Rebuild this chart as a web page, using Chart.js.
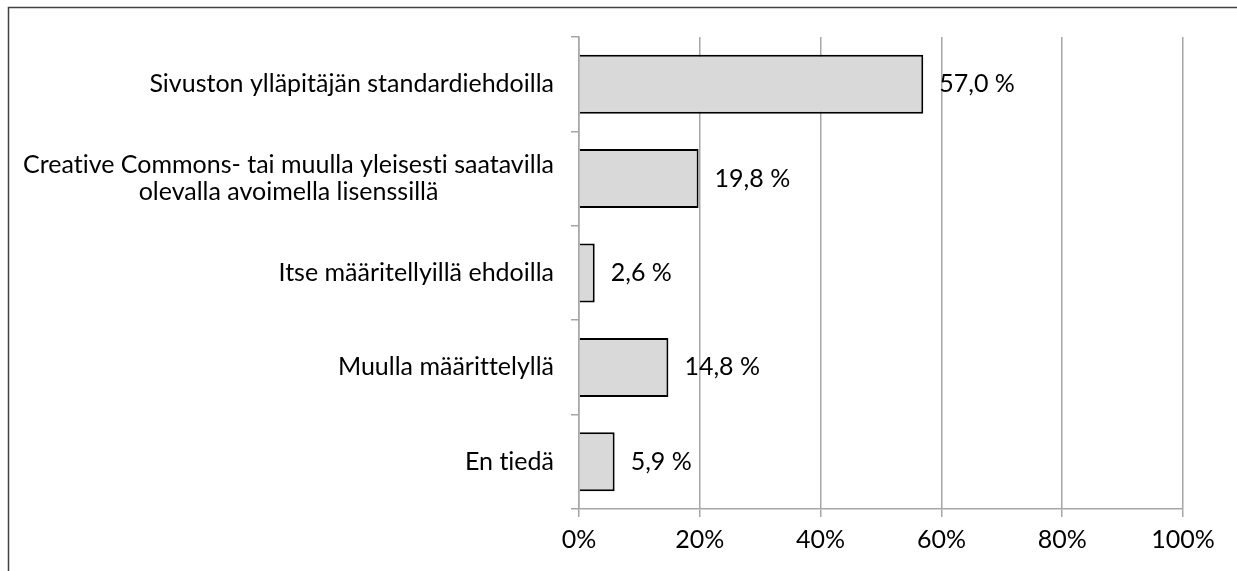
<!DOCTYPE html>
<html>
<head>
<meta charset="utf-8">
<script src="https://cdn.jsdelivr.net/npm/chart.js@4.4.0/dist/chart.umd.min.js"></script>
<style>
  html, body { margin: 0; padding: 0; background: #fff; }
  #wrap { width: 1237px; height: 571px; position: relative; }
  canvas { font-variant-ligatures: none; }
</style>
</head>
<body>
<div id="wrap"><canvas id="c" width="1237" height="571"></canvas></div>
<script>
const categories = [
  ["Sivuston ylläpitäjän standardiehdoilla"],
  ["Creative Commons- tai muulla yleisesti saatavilla", "olevalla avoimella lisenssillä"],
  ["Itse määritellyillä ehdoilla"],
  ["Muulla määrittelyllä"],
  ["En tiedä"]
];
const values = [57.0, 19.8, 2.6, 14.8, 5.9];
const valueLabels = ["57,0 %", "19,8 %", "2,6 %", "14,8 %", "5,9 %"];
const xTicks = [0, 20, 40, 60, 80, 100];

const FONT = "Lato, 'Open Sans', sans-serif";
const FS = 25;
const GRID = '#a6a6a6';

const noLigPlugin = {
  id: 'nolig',
  beforeDraw(chart) {
    try { chart.ctx.textRendering = 'optimizeSpeed'; } catch (e) {}
  }
};

const framePlugin = {
  id: 'frame',
  afterDraw(chart) {
    const ctx = chart.ctx;
    ctx.save();
    ctx.strokeStyle = '#404040';
    ctx.lineWidth = 1.5;
    ctx.beginPath();
    ctx.moveTo(8.5, 571);
    ctx.lineTo(8.5, 7.5);
    ctx.lineTo(1237, 7.5);
    ctx.stroke();
    ctx.restore();
  }
};

const labelPlugin = {
  id: 'labels',
  afterDatasetsDraw(chart) {
    const ctx = chart.ctx;
    const y = chart.scales.y;
    const meta = chart.getDatasetMeta(0);
    ctx.save();
    try { ctx.textRendering = 'optimizeSpeed'; } catch (e) {}
    ctx.fillStyle = '#000';
    ctx.font = FS + 'px ' + FONT;
    ctx.textBaseline = 'middle';
    const lh = 27;
    const rightEdge = y.right - 25;
    categories.forEach((lines, i) => {
      const cy = y.getPixelForValue(i);
      const w = Math.max(...lines.map(l => ctx.measureText(l).width));
      const cx = rightEdge - w / 2;
      ctx.textAlign = 'center';
      lines.forEach((l, j) => {
        const ly = cy + (j - (lines.length - 1) / 2) * lh;
        ctx.fillText(l, cx, ly);
      });
    });
    meta.data.forEach((bar, i) => {
      ctx.textAlign = 'left';
      ctx.fillText(valueLabels[i], bar.x + 16, bar.y);
    });
    ctx.restore();
  }
};

new Chart(document.getElementById('c'), {
  type: 'bar',
  data: {
    labels: categories,
    datasets: [{
      data: values,
      backgroundColor: '#d9d9d9',
      borderColor: '#000',
      borderWidth: 2,
      barPercentage: 0.625,
      categoryPercentage: 1.0
    }]
  },
  options: {
    indexAxis: 'y',
    responsive: false,
    animation: false,
    devicePixelRatio: 1,
    layout: { padding: { top: 37, right: 54, bottom: 0, left: 0 } },
    plugins: { legend: { display: false }, tooltip: { enabled: false } },
    scales: {
      x: {
        min: 0, max: 100,
        afterBuildTicks(scale) { scale.ticks = xTicks.map(v => ({ value: v })); },
        afterFit(scale) { scale.height = 62; },
        ticks: {
          callback: v => v + '%',
          color: '#000',
          font: { family: FONT, size: FS },
          padding: 8
        },
        grid: { color: GRID, lineWidth: 1.5, tickLength: 8 },
        border: { color: GRID, width: 1.5 }
      },
      y: {
        afterFit(scale) { scale.width = 579; },
        ticks: { display: false },
        grid: { drawOnChartArea: false, color: GRID, lineWidth: 1.5, tickLength: 8, offset: true },
        border: { color: GRID, width: 1.5 }
      }
    }
  },
  plugins: [noLigPlugin, framePlugin, labelPlugin]
});
</script>
</body>
</html>
